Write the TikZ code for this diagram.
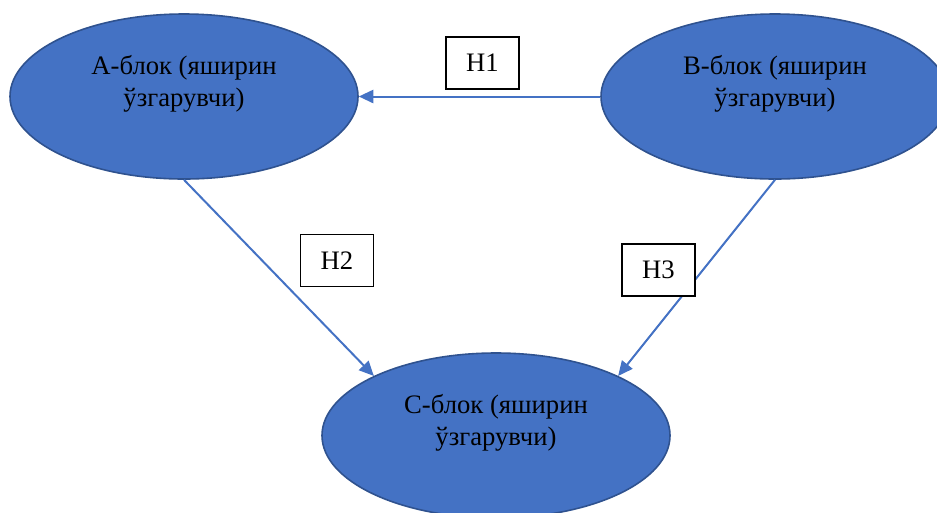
\documentclass[tikz,border=0pt]{standalone}
\usepackage{fontspec}
\setmainfont{Liberation Serif}
\usetikzlibrary{shapes.geometric,arrows.meta}
\definecolor{fillblue}{HTML}{4472C4}
\definecolor{edgeblue}{HTML}{2F528F}
\definecolor{lineblue}{HTML}{4472C4}
\begin{document}
\begin{tikzpicture}[x=0.75pt,y=-0.75pt,
  blk/.style={ellipse, draw=edgeblue, fill=fillblue, line width=1.2pt,
    minimum width=261pt, minimum height=123.75pt, inner sep=0pt,
    align=center, font=\fontsize{20}{23.5}\selectfont},
  hbox/.style={draw=black, fill=white, line width=0.9pt,
    minimum width=54.75pt, minimum height=39pt, inner sep=0pt,
    font=\fontsize{20}{24}\selectfont},
  conn/.style={draw=lineblue, line width=1.5pt,
    -{Triangle[length=11pt,width=10pt]}}]
\clip (0,0) rectangle (937,512);
\node[blk] (A) at (184,96.5) {А-блок (яширин\\ўзгарувчи)\\\mbox{}};
\node[blk] (B) at (775,96.5) {В-блок (яширин\\ўзгарувчи)\\\mbox{}};
\node[blk] (C) at (496,435.5) {С-блок (яширин\\ўзгарувчи)\\\mbox{}};
\draw[conn] (B.west) -- (A.east);
\draw[conn] (A.south) -- (C.154.7);
\draw[conn] (B.south) -- (C.26);
\node[hbox] (H1) at (482.5,63) {H1};
\node[hbox] (H2) at (337,260.5) {H2};
\node[hbox] (H3) at (658.5,270) {H3};
\end{tikzpicture}
\end{document}
